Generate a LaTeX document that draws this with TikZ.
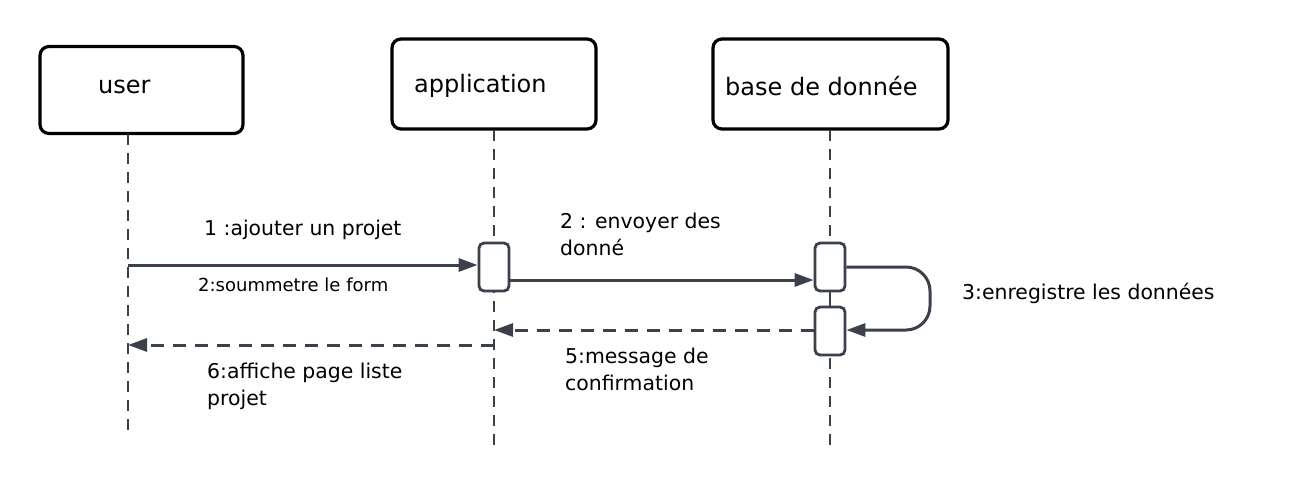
\documentclass[tikz,border=0pt]{standalone}
\usepackage{fontspec}
\setmainfont{DejaVu Sans}
\usetikzlibrary{arrows.meta}
\definecolor{ln}{HTML}{3A414B}
\begin{document}
\begin{tikzpicture}[x=1pt,y=-1pt,
  actorbox/.style={draw=black, line width=3.2pt, rounded corners=9pt, fill=white, inner sep=0pt},
  hdr/.style={font=\fontsize{24}{28}\selectfont, inner sep=0pt, anchor=west},
  actbar/.style={draw=ln, line width=2.8pt, rounded corners=5pt, fill=white, minimum width=30pt, minimum height=48pt, inner sep=0pt},
  lifeline/.style={draw=ln, line width=2.7pt, dash pattern=on 11pt off 8pt},
  msgarrow/.style={draw=ln, line width=3pt, -{Triangle[length=19pt,width=13pt]}},
  retarrow/.style={msgarrow, dash pattern=on 13pt off 9pt},
  lbl/.style={font=\fontsize{20.4}{27}\selectfont, align=left, anchor=west, inner sep=0pt},
  smalllbl/.style={font=\fontsize{18}{22}\selectfont, align=left, anchor=west, inner sep=0pt}
]
\useasboundingbox (0,0) rectangle (1303,491);

% actor boxes
\node[actorbox, minimum width=203pt, minimum height=87pt] (user) at (141.5,90) {};
\node[actorbox, minimum width=204pt, minimum height=90pt] (app) at (494,84) {};
\node[actorbox, minimum width=235pt, minimum height=90pt] (db) at (830.5,84) {};
\node[hdr] (userT) at (98,87) {user};
\node[hdr] (appT) at (414,86) {application};
\node[hdr] (dbT) at (725,86) {base de donnée};

% lifeline ends
\coordinate (uTop) at (128,134);
\coordinate (uBot) at (128,430);
\coordinate (aTop) at (494,130);
\coordinate (aBot) at (494,450);
\coordinate (dTop) at (830,130);
\coordinate (dBot) at (830,445);

\draw[lifeline] (uTop) -- (uBot);
\draw[lifeline] (aTop) -- (aBot);
\draw[lifeline] (dTop) -- (dBot);

% activation bars
\node[actbar] (appA) at (494,267) {};
\node[actbar] (dbA) at (830,267) {};
\node[actbar] (dbB) at (830,331) {};
\draw[ln, line width=2.7pt] (dbA.south) -- (dbB.north);

% messages
\coordinate (m1s) at (128,265);
\draw[msgarrow] (m1s) -- (appA.west |- m1s);
\coordinate (m2s) at (510,280);
\draw[msgarrow] (appA.east |- m2s) -- (dbA.west |- m2s);
\coordinate (m3s) at (845,267);
\coordinate (m3e) at (845,330);
\draw[msgarrow, rounded corners=24pt] (dbA.east |- m3s) -- (930,267) -- (930,330) -- (dbB.east |- m3e);
\coordinate (m5e) at (494,330);
\draw[retarrow] (dbB.west |- m5e) -- (m5e);
\coordinate (m6s) at (494,345);
\coordinate (m6e) at (128,345);
\draw[retarrow] (m6s) -- (m6e);

% labels
\node[lbl] (l1) at (204,230) {1 :ajouter un projet};
\node[smalllbl] (l2) at (198,285) {2:soummetre le form};
\node[lbl] (l2b) at (560,234) {2 : envoyer des\\donné};
\node[lbl] (l3) at (962,293) {3:enregistre les données};
\node[lbl] (l5) at (565,369) {5:message de\\confirmation};
\node[lbl] (l6) at (207,386) {6:affiche page liste\\projet};
\end{tikzpicture}
\end{document}
